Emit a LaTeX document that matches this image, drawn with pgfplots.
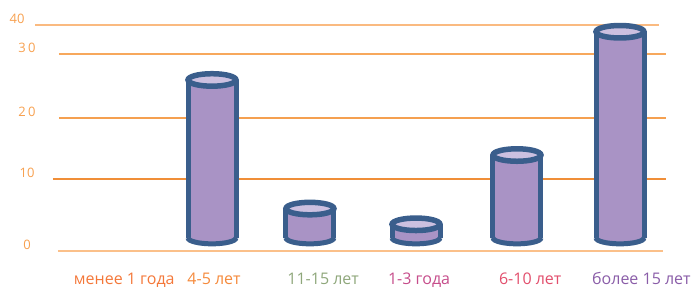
\documentclass[border=0pt]{standalone}
\usepackage{pgfplots}
\pgfplotsset{compat=1.18}
\usepackage{fontspec}
\setmainfont{Open Sans}
\definecolor{cylline}{HTML}{3A5E8C}
\definecolor{cylfill}{HTML}{A993C5}
\definecolor{cyltop}{HTML}{CCC0E0}
\definecolor{gA}{HTML}{FBC08A}
\definecolor{gB}{HTML}{F08E38}
\definecolor{gC}{HTML}{F5A050}
\definecolor{gD}{HTML}{F7A85C}
\definecolor{gE}{HTML}{FABA80}
\definecolor{ylab}{HTML}{F7A04F}
\definecolor{cA}{HTML}{F4783A}
\definecolor{cB}{HTML}{F58A3C}
\definecolor{cC}{HTML}{8FA77B}
\definecolor{cD}{HTML}{C64D8B}
\definecolor{cE}{HTML}{E24F6D}
\definecolor{cF}{HTML}{8A5DA8}
\pgfdeclareplotmark{lowhalf}{%
  \pgfpathmoveto{\pgfqpoint{-\pgfplotmarksize}{0pt}}%
  \pgfpatharc{180}{360}{\pgfplotmarksize and 0.25\pgfplotmarksize}%
  \pgfusepathqfillstroke}
\newcommand{\cyl}[2]{%
  \addplot[cylline, line width=53bp] coordinates {(#1,1.8) (#1,#2)};
  \addplot[cylfill, line width=43bp] coordinates {(#1,1.8) (#1,#2)};
  \addplot[only marks, mark=lowhalf, mark size=24bp, mark options={fill=cylfill, draw=cylline, line width=5bp}] coordinates {(#1,1.8)};
  \addplot[only marks, mark=*, mark size=24bp, mark options={yscale=0.26, fill=cyltop, draw=cylline, line width=5.5bp}] coordinates {(#1,#2)};
}
\begin{document}
\begin{tikzpicture}
\useasboundingbox (0,0) rectangle (699bp,288bp);
\begin{axis}[
  at={(58bp,0)}, anchor=south west,
  scale only axis, width=608bp, height=288bp,
  xmin=-0.5098, xmax=5.451,
  ymin=-5.224, ymax=48.45,
  y coord trafo/.code={\pgfmathparse{(#1)<10 ? 37.3+7.14*(#1) : ((#1)<20 ? 108.7+6.13*((#1)-10) : ((#1)<30 ? 170+6.45*((#1)-20) : 234.5+2.9*((#1)-30)))}},
  clip=false,
  axis line style={draw=none},
  major tick length=0pt,
  ytick={0,10,20,30},
  yticklabels={0,10,2\,0,3\,0},
  extra y ticks={40},
  extra y tick labels={40},
  extra y tick style={yticklabel style={xshift=-10bp}},
  yticklabel style={anchor=center, xshift=-31bp, yshift=6bp, font=\fontsize{13bp}{15bp}\selectfont, text=ylab},
  xtick={0.14,1.02,2.09,3.03,4.12,5.21},
  xticklabels={\textcolor{cA}{менее 1 года},\textcolor{cB}{4-5 лет},\textcolor{cC}{11-15 лет},\textcolor{cD}{1-3 года},\textcolor{cE}{6-10 лет},\textcolor{cF}{более 15 лет}},
  xticklabel style={anchor=base, yshift=4bp, font=\fontsize{16bp}{18bp}\selectfont},
]
% gridlines
\draw[gE, line width=2bp] (axis cs:-0.735,40) -- (axis cs:5.382,40);
\draw[gD, line width=2bp] (axis cs:-0.5,30) -- (axis cs:5.451,30);
\draw[gC, line width=2bp] (axis cs:-0.5,20) -- (axis cs:5.451,20);
\draw[gB, line width=1.8bp] (axis cs:-0.559,10) -- (axis cs:5.451,10);
\draw[gA, line width=2.2bp] (axis cs:-0.51,0) -- (axis cs:5.422,0);
% cylinders: position, value
\cyl{1}{25.9}
\cyl{1.96}{5.9}
\cyl{3}{3.7}
\cyl{3.99}{13.96}
\cyl{5}{37.5}
\end{axis}
\end{tikzpicture}
\end{document}
